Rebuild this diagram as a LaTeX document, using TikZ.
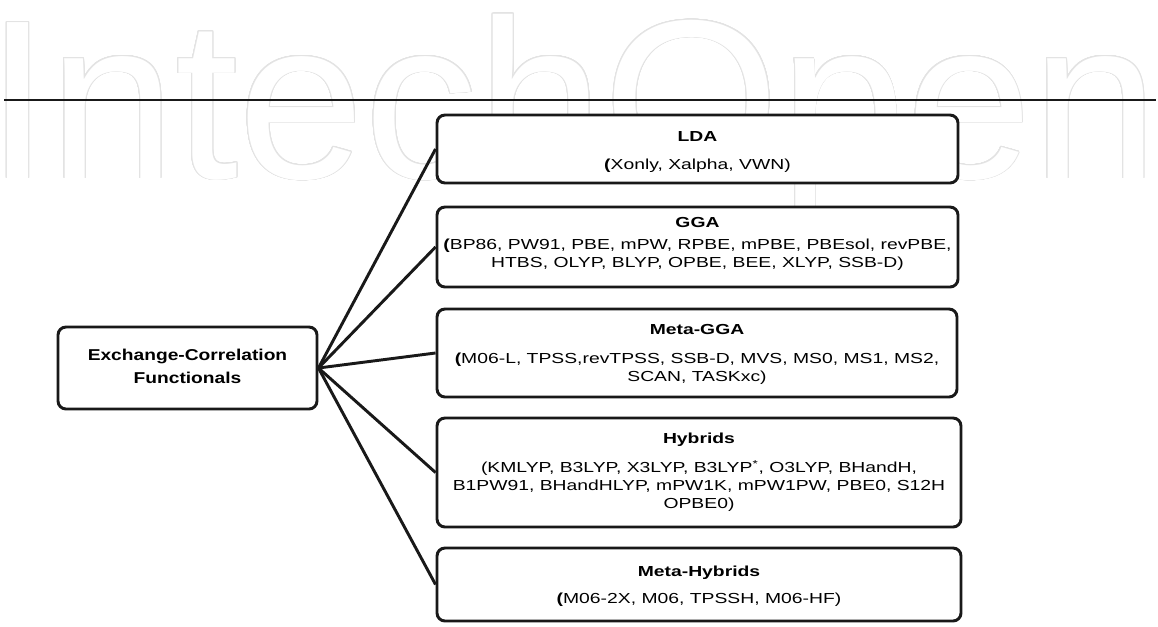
\documentclass[tikz,border=0pt]{standalone}
\usepackage{fontspec}
\setmainfont{Liberation Sans}
\usepackage{graphicx}
\usepackage{contour}
\contourlength{0.7pt}
\contournumber{24}
\definecolor{wmgray}{gray}{0.89}
\definecolor{ink}{gray}{0.1}
\tikzset{
  catbox/.style={draw=ink, line width=2.2pt, rounded corners=6pt, fill=white, inner sep=0pt},
  cattext/.style={inner sep=0pt, align=center, font=\fontsize{10.9}{13.5}\selectfont},
  roottext/.style={inner sep=0pt, align=center, font=\fontsize{11.8}{17.25}\selectfont},
  link/.style={draw=ink, line width=2.2pt},
}
\newcommand{\sx}[1]{\scalebox{1.33}[1]{#1}}
\newcommand{\sxl}[1]{\scalebox{1.22}[1]{#1}}
\begin{document}
\begin{tikzpicture}[x=0.75pt,y=-0.75pt]
\useasboundingbox (0,0) rectangle (1158,626);
\fill[white] (0,0) rectangle (1158,626);
% watermark
\node[anchor=base west, inner sep=0pt] (wm) at (-14,178)
  {\fontsize{170}{170}\selectfont\color{white}\contour{wmgray}{IntechOpen}};
% header rule
\coordinate (rl) at (4,100);
\coordinate (rr) at (1156,100);
\draw[ink, line width=1.1pt] (rl) -- (rr);
% boxes
\node[catbox, minimum width=390.75pt, minimum height=51pt] (lda) at (697.5,149) {};
\node[catbox, minimum width=390.75pt, minimum height=60pt] (gga) at (697.5,247) {};
\node[catbox, minimum width=390pt, minimum height=66pt] (mgga) at (697,353) {};
\node[catbox, minimum width=393pt, minimum height=81.75pt] (hyb) at (699,472.5) {};
\node[catbox, minimum width=393pt, minimum height=54.75pt] (mhyb) at (699,584.5) {};
\node[catbox, minimum width=194.25pt, minimum height=61.5pt] (xc) at (187.5,368) {};
% texts
\node[cattext] (ldat) at (697.5,152) 
  {\sx{\begin{tabular}{@{}c@{}}\textbf{LDA}\\[8pt]\textbf{(}Xonly, Xalpha, VWN)\end{tabular}}};
\node[cattext] (ggat) at (697.5,244)
  {\sx{\begin{tabular}{@{}c@{}}\textbf{GGA}\\[3pt]\textbf{(}BP86, PW91, PBE, mPW, RPBE, mPBE, PBEsol, revPBE,\\HTBS, OLYP, BLYP, OPBE, BEE, XLYP, SSB-D)\end{tabular}}};
\node[cattext] (mggat) at (697,354.5)
  {\sx{\begin{tabular}{@{}c@{}}\textbf{Meta-GGA}\\[8pt]\textbf{(}M06-L, TPSS,revTPSS, SSB-D, MVS, MS0, MS1, MS2,\\SCAN, TASKxc)\end{tabular}}};
\node[cattext] (hybt) at (699,472.5)
  {\sx{\begin{tabular}{@{}c@{}}\textbf{Hybrids}\\[8pt](KMLYP, B3LYP, X3LYP, B3LYP\textsuperscript{*}, O3LYP, BHandH,\\B1PW91, BHandHLYP, mPW1K, mPW1PW, PBE0, S12H\\OPBE0)\end{tabular}}};
\node[cattext] (mhybt) at (699,586.5)
  {\sx{\begin{tabular}{@{}c@{}}\textbf{Meta-Hybrids}\\[7pt]\textbf{(}M06-2X, M06, TPSSH, M06-HF)\end{tabular}}};
\node[roottext] (xct) at (187.5,367)
  {\sxl{\begin{tabular}{@{}c@{}}\textbf{Exchange-Correlation}\\\textbf{Functionals}\end{tabular}}};
% connectors
\draw[link] (xc.east) -- (lda.west);
\draw[link] (xc.east) -- (gga.west);
\draw[link] (xc.east) -- (mgga.west);
\draw[link] (xc.east) -- (hyb.west);
\draw[link] (xc.east) -- (mhyb.west);
\end{tikzpicture}
\end{document}
